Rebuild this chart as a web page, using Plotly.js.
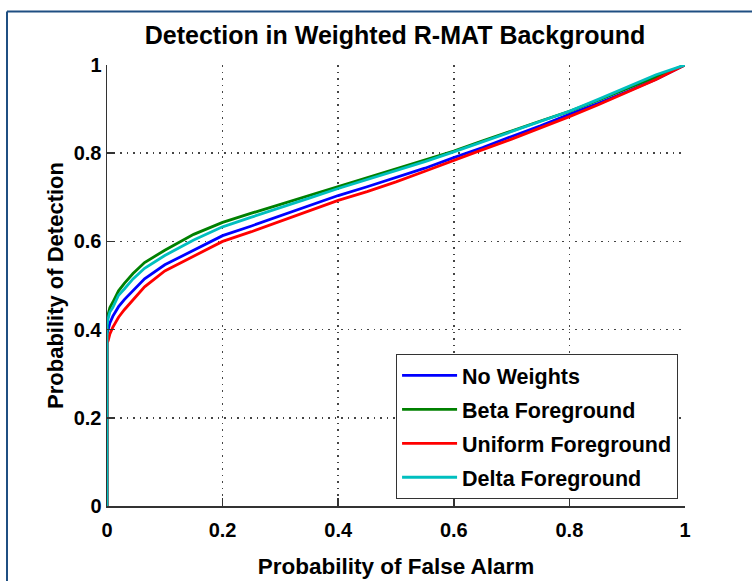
<!DOCTYPE html>
<html>
<head>
<meta charset="utf-8">
<script src="https://cdn.plot.ly/plotly-3.0.1.min.js"></script>
<style>
html,body{margin:0;padding:0;background:#fff;}
#chart{width:752px;height:581px;}
</style>
</head>
<body>
<div id="chart"></div>
<script>
// Probability of false alarm (shared x grid)
const pfa = [0, 0, 0.002, 0.005, 0.01, 0.02, 0.03, 0.045, 0.065, 0.1, 0.15, 0.2, 0.25, 0.3, 0.35, 0.4, 0.45, 0.5, 0.55, 0.6, 0.65, 0.7, 0.75, 0.8, 0.85, 0.9, 0.95, 1];

// Probability of detection per series
const noWeights = [0, 0.39, 0.40, 0.415, 0.43, 0.452, 0.468, 0.488, 0.515, 0.547, 0.58, 0.613, 0.635, 0.658, 0.681, 0.704, 0.724, 0.745, 0.766, 0.79, 0.813, 0.838, 0.862, 0.888, 0.913, 0.94, 0.968, 1];
const betaFg    = [0, 0.42, 0.435, 0.45, 0.462, 0.488, 0.505, 0.527, 0.552, 0.58, 0.616, 0.643, 0.664, 0.684, 0.705, 0.725, 0.745, 0.764, 0.784, 0.805, 0.828, 0.851, 0.873, 0.895, 0.92, 0.947, 0.973, 1];
const uniformFg = [0, 0.37, 0.375, 0.39, 0.405, 0.428, 0.445, 0.468, 0.497, 0.533, 0.567, 0.6, 0.622, 0.646, 0.67, 0.693, 0.713, 0.735, 0.759, 0.784, 0.808, 0.832, 0.857, 0.883, 0.91, 0.938, 0.967, 1];
const deltaFg   = [0, 0.41, 0.425, 0.44, 0.45, 0.478, 0.492, 0.515, 0.539, 0.568, 0.603, 0.633, 0.655, 0.676, 0.698, 0.72, 0.74, 0.76, 0.781, 0.803, 0.826, 0.85, 0.872, 0.895, 0.922, 0.95, 0.978, 1];

const seriesNames = ['No Weights', 'Beta Foreground', 'Uniform Foreground', 'Delta Foreground'];
const seriesData = [noWeights, betaFg, uniformFg, deltaFg];
const seriesColors = ['#0000FF', '#008000', '#FF0000', '#00BFBF'];

const tickVals = [0, 0.2, 0.4, 0.6, 0.8, 1];
const tickText = ['0', '0.2', '0.4', '0.6', '0.8', '1'];

const FONT = 'Liberation Sans, Arial, Helvetica, sans-serif';

const traces = seriesNames.map((n, i) => ({
  type: 'scatter',
  mode: 'lines',
  name: n,
  x: pfa,
  y: seriesData[i],
  line: {color: seriesColors[i], width: 2.8},
  legendgroup: 'g' + i
}));

const axisCommon = {
  range: [0, 1],
  tickvals: tickVals,
  ticktext: tickText,
  showgrid: true,
  gridcolor: '#444',
  griddash: '1.5px,5px',
  gridwidth: 1.5,
  zeroline: false,
  showline: true,
  linecolor: '#333',
  linewidth: 1.5,
  ticks: 'inside',
  ticklen: 8,
  tickwidth: 1.5,
  tickcolor: '#333',
  tickfont: {family: FONT, size: 20, color: '#000', weight: 'bold'},
  fixedrange: true,
  automargin: false
};

const layout = {
  width: 752,
  height: 581,
  margin: {l: 107, r: 67, t: 64.5, b: 75},
  paper_bgcolor: '#fff',
  plot_bgcolor: '#fff',
  font: {family: FONT, color: '#000'},
  title: {
    text: '<b>Detection in Weighted R-MAT Background</b>',
    font: {family: FONT, size: 25, color: '#000'},
    x: 395 / 752, xanchor: 'center', xref: 'container',
    y: 1 - 35 / 581, yanchor: 'middle', yref: 'container'
  },
  xaxis: Object.assign({}, axisCommon, {
    ticklabelstandoff: 5,
    title: {text: '<b>Probability of False Alarm</b>', font: {family: FONT, size: 22.5, color: '#000'}, standoff: 18}
  }),
  yaxis: Object.assign({}, axisCommon, {
    title: {text: '<b>Probability of Detection</b>', font: {family: FONT, size: 22, color: '#000'}, standoff: 4}
  }),
  legend: {
    x: 0.988, xanchor: 'right',
    y: 0.016, yanchor: 'bottom',
    bgcolor: '#fff',
    bordercolor: '#333',
    borderwidth: 1,
    font: {family: FONT, size: 21.5, color: '#000', weight: 'bold'},
    itemwidth: 55,
    tracegroupgap: 3,
    traceorder: 'grouped'
  },
  showlegend: true,
  shapes: [
    {type: 'line', xref: 'paper', yref: 'paper', x0: (7 - 107) / 578, x1: (7 - 107) / 578, y0: (506 - 11) / 441.5, y1: (506 - 590) / 441.5, line: {color: '#1F4F82', width: 2}},
    {type: 'line', xref: 'paper', yref: 'paper', x0: (7 - 107) / 578, x1: (760 - 107) / 578, y0: (506 - 11) / 441.5, y1: (506 - 11) / 441.5, line: {color: '#1F4F82', width: 2}}
  ]
};

Plotly.newPlot('chart', traces, layout, {displayModeBar: false, staticPlot: true});
</script>
</body>
</html>
